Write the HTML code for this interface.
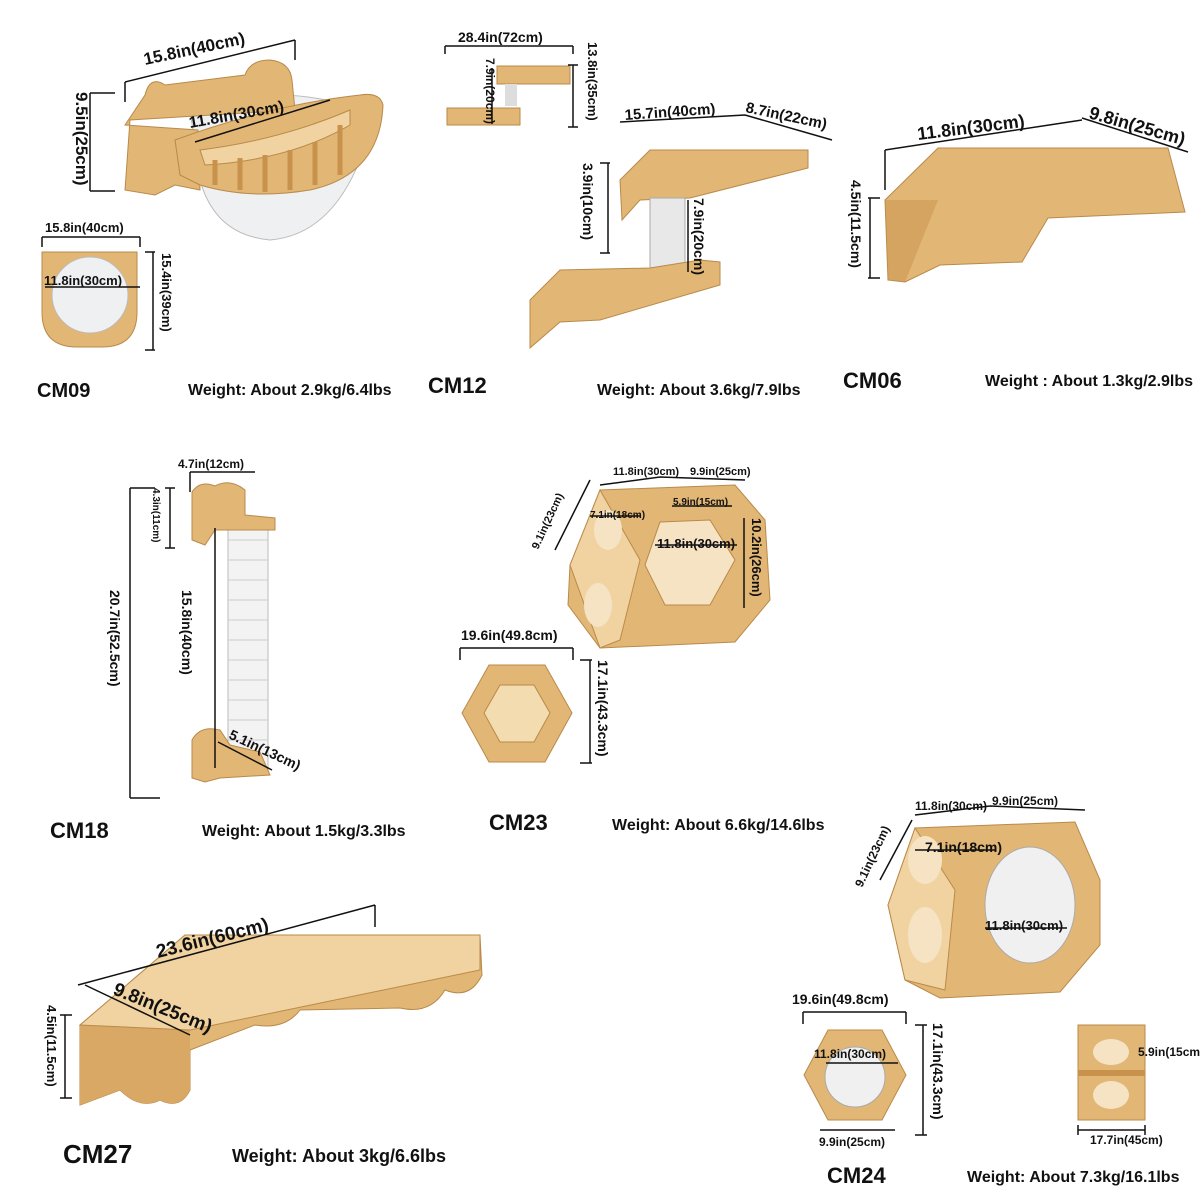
<!DOCTYPE html>
<html><head><meta charset="utf-8"><style>
html,body{margin:0;padding:0;background:#fff}
svg{display:block}
text{font-family:"Liberation Sans",Arial,sans-serif;font-weight:bold;fill:#111}
.d{stroke:#111;stroke-width:1.5;fill:none}
.w{fill:#e2b674;stroke:#b98a4a;stroke-width:1}
.l{fill:#f0d3a0;stroke:#b98a4a;stroke-width:1}
.dk{fill:#c8924c}
.g{fill:#eef0f2;stroke:#bbb;stroke-width:1}
</style></head><body>
<svg width="1200" height="1200" viewBox="0 0 1200 1200" xmlns="http://www.w3.org/2000/svg">
<rect width="1200" height="1200" fill="#fff"/>

<!-- CM09 -->
<path class="g" d="M190,110 Q280,80 360,110 L360,160 Q330,235 270,240 Q215,235 200,180 Z"/>
<path class="w" d="M125,125 L145,95 Q150,75 165,85 L245,75 Q250,60 270,60 Q290,62 292,80 L295,110 L130,120 L125,190 L155,195 L175,185 L200,190 L198,130 Z"/>
<path class="w" d="M175,140 Q270,105 360,95 Q380,92 383,105 Q380,175 310,190 Q250,200 200,185 L180,175 Z"/>
<path class="l" d="M200,150 Q280,140 350,110 L350,125 Q290,160 205,165 Z"/>
<g stroke="#c8924c" stroke-width="5"><line x1="215" y1="160" x2="215" y2="185"/><line x1="240" y1="158" x2="240" y2="190"/><line x1="265" y1="155" x2="265" y2="192"/><line x1="290" y1="150" x2="290" y2="190"/><line x1="315" y1="142" x2="315" y2="185"/><line x1="340" y1="125" x2="340" y2="175"/></g>
<path class="d" d="M125,82 L295,40 M125,82 v20 M295,40 v20 M90,93 v98 M90,93 h25 M90,191 h25 M195,142 L330,100"/>
<text x="145" y="65" font-size="17" transform="rotate(-12 145 65)">15.8in(40cm)</text>
<text x="190" y="128" font-size="16" transform="rotate(-10 190 128)">11.8in(30cm)</text>
<text x="76" y="92" font-size="17" transform="rotate(90 76 92)">9.5in(25cm)</text>

<path class="w" d="M42,252 h95 v60 q0,35 -35,35 h-25 q-35,0 -35,-35 Z"/>
<circle class="g" cx="90" cy="295" r="38"/>
<path class="d" d="M42,237 h98 M42,237 v10 M140,237 v10 M45,287 h95 M153,252 v98 M145,252 h10 M145,350 h10"/>
<text x="45" y="232" font-size="13">15.8in(40cm)</text>
<text x="44" y="285" font-size="13">11.8in(30cm)</text>
<text x="162" y="253" font-size="13" transform="rotate(90 162 253)">15.4in(39cm)</text>
<text x="37" y="397" font-size="20">CM09</text>
<text x="188" y="395" font-size="16">Weight: About 2.9kg/6.4lbs</text>

<!-- CM12 -->
<path class="w" d="M447,108 h73 v17 h-73 Z"/><path class="w" d="M497,66 h73 v18 h-73 Z"/>
<rect x="505" y="84" width="12" height="22" fill="#ddd"/>
<path class="d" d="M445,46 h128 M445,46 v8 M573,46 v8 M573,65 v62 M568,65 h10 M568,127 h10 M492,68 v56"/>
<text x="458" y="42" font-size="14">28.4in(72cm)</text>
<text x="588" y="42" font-size="13" transform="rotate(90 588 42)">13.8in(35cm)</text>
<text x="486" y="58" font-size="12" transform="rotate(90 486 58)">7.9in(20cm)</text>

<path class="w" d="M620,180 L650,150 L808,150 L808,168 L690,198 L640,200 L622,220 Z"/>
<rect x="650" y="198" width="35" height="82" fill="#e8e8e8" stroke="#aaa"/>
<path class="w" d="M530,300 L560,270 L650,268 L700,260 L720,262 L720,285 L600,320 L560,322 L530,348 Z"/>
<path class="d" d="M620,122 L745,115 M745,115 L832,140 M608,163 v90 M600,163 h10 M600,253 h10 M688,200 v72"/>
<text x="625" y="120" font-size="15" transform="rotate(-4 625 120)">15.7in(40cm)</text>
<text x="745" y="112" font-size="15" transform="rotate(12 745 112)">8.7in(22cm)</text>
<text x="583" y="163" font-size="14" transform="rotate(90 583 163)">3.9in(10cm)</text>
<text x="694" y="198" font-size="14" transform="rotate(90 694 198)">7.9in(20cm)</text>
<text x="428" y="393" font-size="22">CM12</text>
<text x="597" y="395" font-size="16">Weight: About 3.6kg/7.9lbs</text>

<!-- CM06 -->
<path class="w" d="M885,200 L938,148 L1168,148 L1185,212 L1048,218 L1022,262 L940,265 L905,282 L888,280 Z"/>
<path class="dk" d="M885,200 L938,200 L905,282 L888,280 Z" opacity=".5"/>
<path class="d" d="M885,150 L1082,120 M885,150 v40 M1082,118 L1188,152 M870,198 v80 M868,198 h12 M868,278 h12"/>
<text x="918" y="140" font-size="18" transform="rotate(-7 918 140)">11.8in(30cm)</text>
<text x="1088" y="118" font-size="18" transform="rotate(16 1088 118)">9.8in(25cm)</text>
<text x="851" y="180" font-size="14" transform="rotate(90 851 180)">4.5in(11.5cm)</text>
<text x="843" y="388" font-size="22">CM06</text>
<text x="985" y="386" font-size="16">Weight : About 1.3kg/2.9lbs</text>

<!-- CM18 -->
<rect x="228" y="525" width="40" height="245" fill="#f3f3f3" stroke="#bbb"/>
<g stroke="#ccc" stroke-width="1"><line x1="228" y1="540" x2="268" y2="540"/><line x1="228" y1="560" x2="268" y2="560"/><line x1="228" y1="580" x2="268" y2="580"/><line x1="228" y1="600" x2="268" y2="600"/><line x1="228" y1="620" x2="268" y2="620"/><line x1="228" y1="640" x2="268" y2="640"/><line x1="228" y1="660" x2="268" y2="660"/><line x1="228" y1="680" x2="268" y2="680"/><line x1="228" y1="700" x2="268" y2="700"/><line x1="228" y1="720" x2="268" y2="720"/><line x1="228" y1="740" x2="268" y2="740"/></g>
<path class="w" d="M192,492 Q200,480 215,486 Q230,478 245,490 L245,515 L275,518 L275,530 L215,530 L205,545 L192,540 Z"/>
<path class="w" d="M192,740 Q200,725 220,730 L230,745 L260,752 L270,775 L220,778 L205,782 L192,778 Z"/>
<path class="d" d="M190,472 h65 M190,472 v20 M170,488 v60 M165,488 h10 M165,548 h10 M130,488 v310 M130,488 h25 M130,798 h30 M215,528 v240 M218,742 L272,770"/>
<text x="178" y="468" font-size="12">4.7in(12cm)</text>
<text x="153" y="488" font-size="10" transform="rotate(90 153 488)">4.3in(11cm)</text>
<text x="110" y="590" font-size="14" transform="rotate(90 110 590)">20.7in(52.5cm)</text>
<text x="182" y="590" font-size="14" transform="rotate(90 182 590)">15.8in(40cm)</text>
<text x="228" y="738" font-size="14" transform="rotate(25 228 738)">5.1in(13cm)</text>
<text x="50" y="838" font-size="22">CM18</text>
<text x="202" y="836" font-size="16">Weight: About 1.5kg/3.3lbs</text>

<!-- CM23 -->
<path class="w" d="M570,565 L600,490 L735,485 L765,520 L770,600 L735,642 L600,648 L568,605 Z"/>
<path class="l" d="M570,565 L600,490 L640,560 L620,640 L600,648 Z"/>
<path fill="#f5e3c4" stroke="#b98a4a" d="M660,522 L710,520 L735,560 L710,605 L665,605 L645,565 Z"/>
<ellipse cx="608" cy="530" rx="14" ry="20" fill="#f5e3c4"/>
<ellipse cx="598" cy="605" rx="14" ry="22" fill="#f5e3c4"/>
<path class="d" d="M600,485 L660,477 M660,477 L745,480 M555,550 L590,480 M744,518 v90 M672,506 h60 M590,516 h50 M655,545 h82"/>
<text x="613" y="475" font-size="11">11.8in(30cm)</text>
<text x="690" y="475" font-size="11">9.9in(25cm)</text>
<text x="538" y="550" font-size="11" transform="rotate(-65 538 550)">9.1in(23cm)</text>
<text x="673" y="505" font-size="10">5.9in(15cm)</text>
<text x="590" y="518" font-size="10">7.1in(18cm)</text>
<text x="657" y="548" font-size="13">11.8in(30cm)</text>
<text x="752" y="518" font-size="13" transform="rotate(90 752 518)">10.2in(26cm)</text>

<path class="w" d="M489,665 L545,665 L572,713 L545,762 L489,762 L462,713 Z"/>
<path fill="#f3dcb0" stroke="#b98a4a" d="M500,685 L534,685 L550,713 L534,742 L500,742 L484,713 Z"/>
<path class="d" d="M460,648 h113 M460,648 v12 M573,648 v12 M590,660 v103 M580,660 h12 M580,763 h12"/>
<text x="461" y="640" font-size="14">19.6in(49.8cm)</text>
<text x="598" y="660" font-size="14" transform="rotate(90 598 660)">17.1in(43.3cm)</text>
<text x="489" y="830" font-size="22">CM23</text>
<text x="612" y="830" font-size="16">Weight: About 6.6kg/14.6lbs</text>

<!-- CM27 -->
<path class="w" d="M80,1025 L185,935 L480,935 L482,975 Q470,1000 445,990 Q430,1015 400,1008 L300,1010 Q285,1030 255,1025 L190,1050 L190,1090 Q180,1110 160,1100 Q140,1110 120,1090 L80,1105 Z"/>
<path fill="#d9a865" d="M80,1025 L190,1030 L190,1090 Q180,1110 160,1100 Q140,1110 120,1090 L80,1105 Z"/>
<path class="l" d="M80,1025 L185,935 L480,935 L480,970 L190,1030 Z"/>
<path class="d" d="M78,985 L375,905 M375,905 v22 M85,985 L190,1035 M65,1015 v83 M60,1015 h12 M60,1098 h12"/>
<text x="158" y="958" font-size="19" transform="rotate(-14 158 958)">23.6in(60cm)</text>
<text x="112" y="994" font-size="19" transform="rotate(22 112 994)">9.8in(25cm)</text>
<text x="47" y="1005" font-size="13" transform="rotate(90 47 1005)">4.5in(11.5cm)</text>
<text x="63" y="1163" font-size="26">CM27</text>
<text x="232" y="1162" font-size="18">Weight: About 3kg/6.6lbs</text>

<!-- CM24 -->
<path class="w" d="M888,905 L915,828 L1075,822 L1100,880 L1100,945 L1060,992 L940,998 L905,980 Z"/>
<path class="l" d="M888,905 L915,828 L955,890 L945,990 L905,980 Z"/>
<ellipse cx="925" cy="860" rx="17" ry="24" fill="#f5e3c4"/>
<ellipse cx="925" cy="935" rx="17" ry="28" fill="#f5e3c4"/>
<ellipse cx="1030" cy="905" rx="45" ry="58" fill="#f0f0f0" stroke="#aaa"/>
<path class="d" d="M915,815 L990,806 M990,806 L1085,810 M880,880 L912,820 M915,850 h80 M985,928 h82"/>
<text x="915" y="810" font-size="12">11.8in(30cm)</text>
<text x="992" y="805" font-size="12">9.9in(25cm)</text>
<text x="862" y="888" font-size="12" transform="rotate(-65 862 888)">9.1in(23cm)</text>
<text x="925" y="852" font-size="14">7.1in(18cm)</text>
<text x="985" y="930" font-size="13">11.8in(30cm)</text>

<path class="w" d="M828,1030 L882,1030 L906,1075 L882,1120 L828,1120 L804,1075 Z"/>
<circle cx="855" cy="1077" r="30" fill="#f0f0f0" stroke="#aaa"/>
<path class="d" d="M803,1012 h103 M803,1012 v12 M906,1012 v12 M826,1063 h72 M820,1130 h75 M923,1025 v110 M915,1025 h12 M915,1135 h12"/>
<text x="792" y="1004" font-size="14">19.6in(49.8cm)</text>
<text x="814" y="1058" font-size="12">11.8in(30cm)</text>
<text x="819" y="1146" font-size="12">9.9in(25cm)</text>
<text x="933" y="1023" font-size="14" transform="rotate(90 933 1023)">17.1in(43.3cm)</text>

<rect class="w" x="1078" y="1025" width="67" height="95"/>
<ellipse cx="1111" cy="1052" rx="18" ry="13" fill="#f5e3c4"/>
<ellipse cx="1111" cy="1095" rx="18" ry="14" fill="#f5e3c4"/>
<rect x="1078" y="1070" width="67" height="6" fill="#c8924c"/>
<path class="d" d="M1078,1130 h67 M1078,1125 v10 M1145,1125 v10"/>
<text x="1138" y="1056" font-size="12">5.9in(15cm)</text>
<text x="1090" y="1144" font-size="12">17.7in(45cm)</text>
<text x="827" y="1183" font-size="22">CM24</text>
<text x="967" y="1182" font-size="16">Weight: About 7.3kg/16.1lbs</text>
</svg>
</body></html>
